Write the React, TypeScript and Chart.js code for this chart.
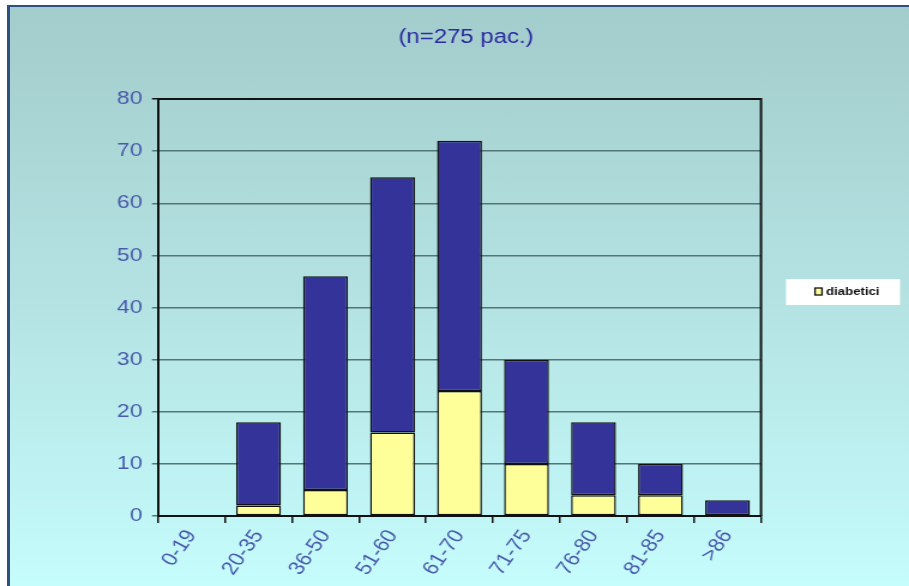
import React, { useEffect, useRef } from 'react';
import { Chart, registerables } from 'chart.js';

Chart.register(...registerables);

const categories = ['0-19', '20-35', '36-50', '51-60', '61-70', '71-75', '76-80', '81-85', '>86'];
const diabetici = [0, 2, 5, 16, 24, 10, 4, 4, 0];
const nonDiabetici = [0, 16, 41, 49, 48, 20, 14, 6, 3];
const yMin = 0;
const yMax = 80;
const yStep = 10;
const titleText = '(n=275 pac.)';
const legendLabel = 'diabetici';
const otherLabel = 'non diabetici';

const W = 909;
const H = 586;
const IW = 758; // internal canvas width, stretched horizontally by CSS
const S = W / IW;
const FONT = '"Liberation Sans", Arial, Helvetica, sans-serif';
const TICK_COLOR = '#4a5aac';

const decor = {
  id: 'decor',
  afterDraw(chart: any) {
    const { ctx, chartArea: a } = chart;
    ctx.save();
    // plot frame top/right
    ctx.strokeStyle = '#111';
    ctx.lineWidth = 2;
    ctx.beginPath();
    ctx.moveTo(a.left, a.top);
    ctx.lineTo(a.right, a.top);
    ctx.lineTo(a.right, a.bottom);
    ctx.stroke();
    // title
    ctx.fillStyle = '#2b2ba0';
    ctx.font = `20px ${FONT}`;
    ctx.textAlign = 'center';
    ctx.textBaseline = 'middle';
    ctx.fillText(titleText, 466 / S, 37);
    // legend box
    const lx = 786 / S;
    const lw = 114 / S;
    ctx.fillStyle = '#ffffff';
    ctx.fillRect(lx, 279, lw, 26);
    const ds = chart.data.datasets[0];
    ctx.fillStyle = ds.backgroundColor;
    ctx.fillRect(815 / S, 288, 7 / S, 7);
    ctx.strokeStyle = '#111';
    ctx.lineWidth = 1.3;
    ctx.strokeRect(815 / S, 288, 7 / S, 7);
    ctx.fillStyle = '#111';
    ctx.font = `bold 11px ${FONT}`;
    ctx.textAlign = 'left';
    ctx.textBaseline = 'middle';
    ctx.fillText(ds.label, 826 / S, 292);
    ctx.restore();
  },
};

export default function App() {
  const ref = useRef<HTMLCanvasElement | null>(null);

  useEffect(() => {
    if (!ref.current) return;
    const chart = new Chart(ref.current, {
      type: 'bar',
      data: {
        labels: categories,
        datasets: [
          {
            label: legendLabel,
            data: diabetici,
            backgroundColor: '#ffff99',
            borderColor: '#111111',
            borderWidth: 1.5,
            borderSkipped: false,
            barPercentage: 0.67,
            categoryPercentage: 1,
          },
          {
            label: otherLabel,
            data: nonDiabetici,
            backgroundColor: '#333399',
            borderColor: '#111111',
            borderWidth: 1.5,
            borderSkipped: false,
            barPercentage: 0.67,
            categoryPercentage: 1,
          },
        ],
      },
      options: {
        responsive: false,
        animation: false,
        devicePixelRatio: 1,
        layout: { padding: { top: 99, right: IW - 761 / S, bottom: 0, left: 0 } },
        plugins: {
          legend: { display: false },
          title: { display: false },
          tooltip: { enabled: false },
        },
        scales: {
          x: {
            stacked: true,
            grid: {
              display: true,
              drawOnChartArea: false,
              drawTicks: true,
              tickLength: 7,
              color: '#111',
              lineWidth: 1.5,
              offset: true,
            },
            border: { display: true, color: '#111', width: 2 },
            ticks: {
              color: TICK_COLOR,
              font: { family: FONT, size: 19 },
              minRotation: 58,
              maxRotation: 58,
              padding: 3,
              autoSkip: false,
            },
            afterFit: (s: any) => {
              s.height = 70;
            },
          },
          y: {
            stacked: true,
            min: yMin,
            max: yMax,
            ticks: {
              stepSize: yStep,
              color: TICK_COLOR,
              font: { family: FONT, size: 19 },
              padding: 8,
            },
            grid: {
              color: (c: any) => (c.tick && c.tick.value === yMax ? '#111' : '#557474'),
              lineWidth: 1.5,
              tickLength: 5,
              drawTicks: true,
            },
            border: { display: true, color: '#111', width: 2 },
            afterFit: (s: any) => {
              s.width = 158 / S;
            },
          },
        },
      },
      plugins: [decor],
    });
    return () => chart.destroy();
  }, []);

  return (
    <div style={{ position: 'fixed', left: 0, top: 0, width: W, height: H, background: '#ffffff', overflow: 'hidden' }}>
      <div
        style={{
          position: 'absolute',
          left: 7,
          top: 5,
          right: 0,
          bottom: 0,
          background: 'linear-gradient(to bottom, #a3cccc 0%, #b4e2e2 50%, #c5fcfc 100%)',
          borderLeft: '3px solid #2e5080',
          borderTop: '2px solid #2e5080',
        }}
      />
      <canvas
        ref={ref}
        width={IW}
        height={H}
        style={{ position: 'absolute', left: 0, top: 0, width: W + 'px', height: H + 'px' }}
      />
    </div>
  );
}
